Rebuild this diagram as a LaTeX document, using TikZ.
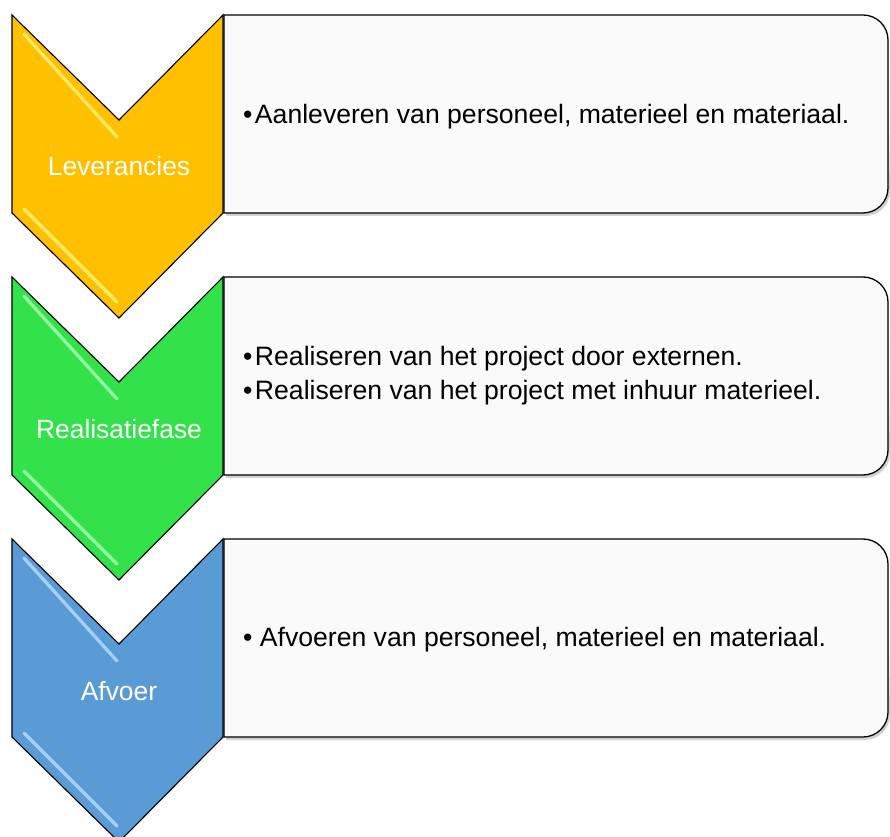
\documentclass[tikz,border=0pt]{standalone}
\usepackage{fontspec}
\setmainfont{Liberation Sans}
\definecolor{cyel}{HTML}{FFC000}
\definecolor{cyelhl}{HTML}{FFF27A}
\definecolor{cgrn}{HTML}{33E24B}
\definecolor{cgrnhl}{HTML}{A8FFB0}
\definecolor{cblu}{HTML}{5B9BD5}
\definecolor{cbluhl}{HTML}{B5DBFA}
\definecolor{boxfill}{HTML}{FAFAFA}
\newcommand{\bulletgap}{•\hspace{2.5pt}}
\tikzset{
  chev/.style={draw=black, line width=1.1pt, line join=miter},
  infobox/.style={draw=black, line width=1.3pt, fill=boxfill},
  boxshadow/.style={fill=black, opacity=0.18},
  hl/.style={line width=3.2pt, line cap=round, opacity=0.85},
  chevlabel/.style={text=white, font=\fontsize{26.4}{30}\selectfont, inner sep=0pt, anchor=base},
  itemtext/.style={text=black, font=\fontsize{26.6}{30}\selectfont, inner sep=0pt, anchor=base west}
}
\begin{document}
\begin{tikzpicture}[x=1pt,y=1pt]
\useasboundingbox (0,0) rectangle (890,836);
\foreach \T/\fc/\hc/\n in {821/cyel/cyelhl/1, 559/cgrn/cgrnhl/2, 297/cblu/cbluhl/3}{
  % shadow of box
  \fill[boxshadow] (226,{\T-3}) -- (863,{\T-3}) arc[start angle=90,end angle=0,radius=25]
     -- (890,{\T-176}) arc[start angle=0,end angle=-90,radius=25] -- (226,{\T-201}) -- cycle;
  % box
  \draw[infobox] (224,\T) -- (863,\T) arc[start angle=90,end angle=0,radius=25]
     -- (888,{\T-173}) arc[start angle=0,end angle=-90,radius=25] -- (224,{\T-198}) -- cycle;
  % chevron
  \draw[chev, fill=\fc] (12,\T) -- (119,{\T-105}) -- (223,\T) -- (223,{\T-198})
     -- (119,{\T-303}) -- (12,{\T-198}) -- cycle;
  \draw[hl, draw=\hc] (24,{\T-19}) -- (117,{\T-122});
  \draw[hl, draw=\hc] (24,{\T-194}) -- (117,{\T-287});
}
\node[chevlabel] (lab1) at (119,660) {Leverancies};
\node[chevlabel] (lab2) at (119,398) {Realisatiefase};
\node[chevlabel] (lab3) at (119,136) {Afvoer};
\node[itemtext] (item1) at (243,712) {\bulletgap Aanleveren van personeel, materieel en materiaal.};
\node[itemtext] (item2a) at (243,470) {\bulletgap Realiseren van het project door externen.};
\node[itemtext] (item2b) at (243,436) {\bulletgap Realiseren van het project met inhuur materieel.};
\node[itemtext] (item3) at (243,190) {• Afvoeren van personeel, materieel en materiaal.};
\end{tikzpicture}
\end{document}
